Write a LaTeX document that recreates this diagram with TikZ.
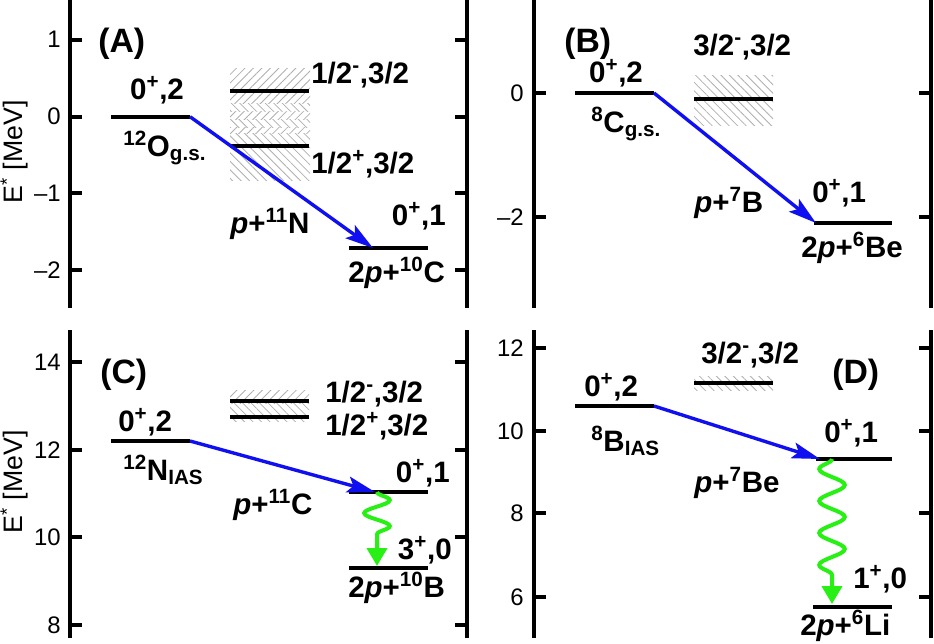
\documentclass[tikz,border=0pt]{standalone}
\usepackage{fontspec}
\setmainfont{Liberation Sans}
\usetikzlibrary{arrows.meta,patterns.meta,decorations.pathmorphing}
\usepackage{xcolor}
\definecolor{decayblue}{RGB}{15,15,240}
\definecolor{gammagreen}{RGB}{40,240,20}
\definecolor{hatchgray}{RGB}{175,175,175}

\begin{document}
\begin{tikzpicture}[x=0.25mm,y=-0.25mm,
  lvl/.style={line width=0.95mm},
  axisline/.style={line width=1.15mm},
  tickmark/.style={line width=1mm},
  decay/.style={draw=decayblue,line width=0.85mm,-{Stealth[length=7mm,width=4mm,inset=1.4mm]}},
  gammaray/.style={draw=gammagreen,line width=1mm,decorate,
    decoration={snake,amplitude=3.2mm,segment length=6.5mm,post length=5.5mm},
    -{Triangle[length=4.5mm,width=5mm]}},
  lab/.style={font=\fontsize{21pt}{23pt}\selectfont\bfseries,inner sep=0pt},
  panel/.style={font=\fontsize{24pt}{26pt}\selectfont\bfseries,inner sep=0pt,anchor=base west},
  ticklab/.style={font=\fontsize{17pt}{19pt}\selectfont,inner sep=0pt,anchor=east},
  ylab/.style={font=\fontsize{19pt}{21pt}\selectfont,inner sep=0pt,rotate=90},
  hatchup/.style={pattern={Lines[angle=45,distance=1.5mm,line width=0.2mm]},pattern color=hatchgray},
  hatchdown/.style={pattern={Lines[angle=-45,distance=1.5mm,line width=0.2mm]},pattern color=hatchgray}]
\useasboundingbox (0,0) rectangle (934,644);

\foreach \xa/\xb/\ya/\yb in {70/467/0/308,534/931/0/308,70/467/330/638,534/931/330/638}{
  \draw[axisline] (\xa,\ya) -- (\xa,\yb);
  \draw[axisline] (\xb,\ya) -- (\xb,\yb);
}
\foreach \y/\t [count=\i] in {39.5/1,116.7/0,193.4/\textendash1,270/\textendash2}{
  \draw[tickmark] (70,\y) -- (82,\y);
  \draw[tickmark] (455,\y) -- (467,\y);
  \node[ticklab] (tickA\i) at (61,\y) {\t};
}
\foreach \y/\t [count=\i] in {93/0,217/\textendash2}{
  \draw[tickmark] (534,\y) -- (546,\y);
  \draw[tickmark] (919,\y) -- (931,\y);
  \node[ticklab] (tickB\i) at (524,\y) {\t};
}
\foreach \y/\t [count=\i] in {362/14,450/12,537/10,625/8}{
  \draw[tickmark] (70,\y) -- (82,\y);
  \draw[tickmark] (455,\y) -- (467,\y);
  \node[ticklab] (tickC\i) at (61,\y) {\t};
}
\foreach \y/\t [count=\i] in {348/12,431/10,513/8,597/6}{
  \draw[tickmark] (534,\y) -- (546,\y);
  \draw[tickmark] (919,\y) -- (931,\y);
  \node[ticklab] (tickD\i) at (524,\y) {\t};
}
\node[ylab] (yA) at (14,152) {E\textsuperscript{*} [MeV]};
\node[ylab] (yC) at (14,482) {E\textsuperscript{*} [MeV]};

% (A)
\fill[hatchup] (230,68) rectangle (310,95);
\foreach \s in {95,111}{
  \fill[hatchup] (230,\s) rectangle (310,\s+8);
  \fill[hatchdown] (230,\s+8) rectangle (310,\s+16);
}
\fill[hatchup] (230,127) rectangle (310,133);
\fill[hatchdown] (230,133) rectangle (310,180);
\draw[lvl] (111,116.7) -- (190,116.7) coordinate (Ogs);
\draw[lvl] (230,90.7) -- (309,90.7);
\draw[lvl] (230,146) -- (309,146);
\draw[lvl] (349,248) -- (428,248);
\coordinate (Cten) at (373,248);
\draw[decay] (Ogs) -- (Cten);
\node[panel] (pA) at (98,52) {(A)};
\node[lab,anchor=base] (jOgs) at (157,99) {0\textsuperscript{+},2};
\node[lab,anchor=base west] (nOgs) at (123,156) {\textsuperscript{12}O\textsubscript{g.s.}};
\node[lab,anchor=base west] (jNm) at (311,83) {1/2\textsuperscript{-},3/2};
\node[lab,anchor=base west] (jNp) at (311,173) {1/2\textsuperscript{+},3/2};
\node[lab,anchor=base west] (pN) at (230,233) {\textit{p}+\textsuperscript{11}N};
\node[lab,anchor=base east] (jCten) at (446,225) {0\textsuperscript{+},1};
\node[lab,anchor=base west] (nCten) at (348,282) {2\textit{p}+\textsuperscript{10}C};

% (B)
\fill[hatchdown] (694,75) rectangle (773,125);
\draw[lvl] (575,93) -- (654,93) coordinate (Cgs);
\draw[lvl] (694,99) -- (773,99);
\draw[lvl] (814,223) -- (892,223);
\coordinate (Besix) at (816,223);
\draw[decay] (Cgs) -- (Besix);
\node[panel] (pB) at (564,52) {(B)};
\node[lab,anchor=base] (jCgs) at (616,82) {0\textsuperscript{+},2};
\node[lab,anchor=base west] (nCgs) at (591,132) {\textsuperscript{8}C\textsubscript{g.s.}};
\node[lab,anchor=base west] (jBm) at (693,55) {3/2\textsuperscript{-},3/2};
\node[lab,anchor=base west] (pB7) at (694,212) {\textit{p}+\textsuperscript{7}B};
\node[lab,anchor=base west] (jBesix) at (812,202) {0\textsuperscript{+},1};
\node[lab,anchor=base west] (nBesix) at (801,257) {2\textit{p}+\textsuperscript{6}Be};

% (C)
\fill[hatchup] (230,390) rectangle (309,403);
\fill[hatchdown] (230,403) rectangle (309,421);
\draw[lvl] (111,441) -- (190,441) coordinate (Nias);
\draw[lvl] (230,401) -- (309,401);
\draw[lvl] (230,417) -- (309,417);
\draw[lvl] (349,492) -- (428,492);
\draw[lvl] (349,568) -- (428,568);
\coordinate (Celev) at (375,492);
\coordinate (Ctop) at (377,492);
\coordinate (Bten) at (377,566);
\draw[decay] (Nias) -- (Celev);
\draw[gammaray] (Ctop) -- (Bten);
\node[panel] (pC) at (100,383) {(C)};
\node[lab,anchor=base west] (jNias) at (118,431) {0\textsuperscript{+},2};
\node[lab,anchor=base west] (nNias) at (123,480) {\textsuperscript{12}N\textsubscript{IAS}};
\node[lab,anchor=base west] (jCm) at (325,402) {1/2\textsuperscript{-},3/2};
\node[lab,anchor=base west] (jCp) at (325,435) {1/2\textsuperscript{+},3/2};
\node[lab,anchor=base west] (pC11) at (233,514) {\textit{p}+\textsuperscript{11}C};
\node[lab,anchor=base east] (jCelev) at (450,482) {0\textsuperscript{+},1};
\node[lab,anchor=base east] (jBten) at (452,559) {3\textsuperscript{+},0};
\node[lab,anchor=base west] (nBten) at (348,597) {2\textit{p}+\textsuperscript{10}B};

% (D)
\fill[hatchdown] (694,376) rectangle (773,390);
\draw[lvl] (575,406) -- (654,406) coordinate (Bias);
\draw[lvl] (694,383) -- (773,383);
\draw[lvl] (816,459) -- (892,459);
\draw[lvl] (813,607) -- (892,607);
\coordinate (Beseven) at (820,459);
\coordinate (Dtop) at (832,459);
\coordinate (Lisix) at (832,604);
\draw[decay] (Bias) -- (Beseven);
\draw[gammaray,decoration={amplitude=-3.2mm,segment length=8mm,post length=6.5mm}] (Dtop) -- (Lisix);
\node[panel] (pD) at (832,383) {(D)};
\node[lab,anchor=base west] (jDm) at (701,363) {3/2\textsuperscript{-},3/2};
\node[lab,anchor=base west] (jBias) at (584,396) {0\textsuperscript{+},2};
\node[lab,anchor=base west] (nBias) at (591,451) {\textsuperscript{8}B\textsubscript{IAS}};
\node[lab,anchor=base west] (jBeseven) at (824,442) {0\textsuperscript{+},1};
\node[lab,anchor=base west] (pBe7) at (694,492) {\textit{p}+\textsuperscript{7}Be};
\node[lab,anchor=base west] (jLisix) at (853,588) {1\textsuperscript{+},0};
\node[lab,anchor=base west] (nLisix) at (800,635) {2\textit{p}+\textsuperscript{6}Li};
\end{tikzpicture}
\end{document}
